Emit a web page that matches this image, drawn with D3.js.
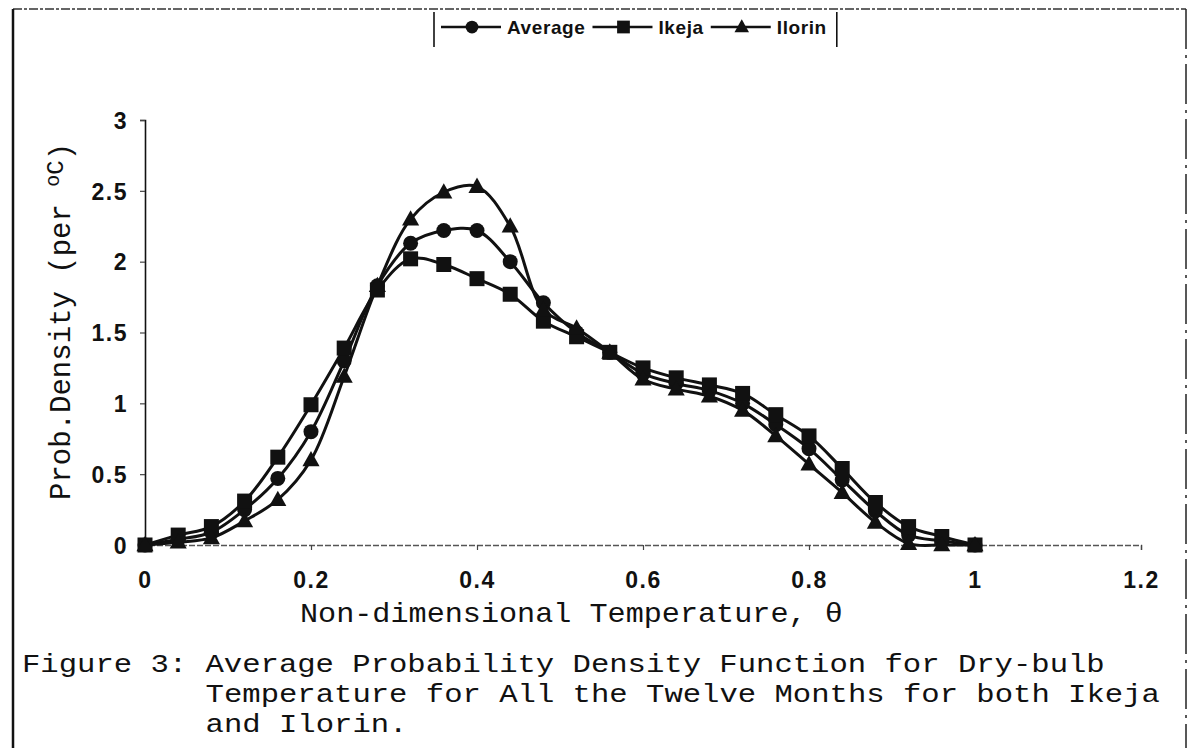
<!DOCTYPE html>
<html>
<head>
<meta charset="utf-8">
<script src="https://cdn.jsdelivr.net/npm/d3@7"></script>
<style>
  html, body { margin: 0; padding: 0; background: #fff; }
  svg { display: block; }
</style>
</head>
<body>
<svg id="chart" width="1194" height="748"></svg>
<script>
// ---- data ----
const xValues = [0, 0.04, 0.08, 0.12, 0.16, 0.20, 0.24, 0.28, 0.32, 0.36, 0.40, 0.44, 0.48,
                 0.52, 0.56, 0.60, 0.64, 0.68, 0.72, 0.76, 0.80, 0.84, 0.88, 0.92, 0.96, 1.0];
const averageValues = [0, 0.04, 0.09, 0.25, 0.47, 0.80, 1.30, 1.83, 2.13, 2.22, 2.22, 2.00, 1.71,
                       1.50, 1.36, 1.21, 1.14, 1.09, 1.00, 0.85, 0.68, 0.46, 0.24, 0.07, 0.03, 0];
const ikejaValues = [0, 0.07, 0.13, 0.31, 0.62, 0.99, 1.39, 1.80, 2.02, 1.98, 1.88, 1.77, 1.58,
                     1.47, 1.36, 1.25, 1.18, 1.13, 1.07, 0.92, 0.77, 0.54, 0.30, 0.13, 0.06, 0];
const ilorinValues = [0, 0.02, 0.05, 0.17, 0.32, 0.60, 1.19, 1.83, 2.30, 2.49, 2.53, 2.25, 1.66,
                      1.53, 1.36, 1.17, 1.10, 1.05, 0.95, 0.77, 0.57, 0.37, 0.16, 0.01, 0.0, 0];
const seriesNames = ["Average", "Ikeja", "Ilorin"];
const seriesMarkers = ["circle", "square", "triangle"];
const xTicks = [0, 0.2, 0.4, 0.6, 0.8, 1, 1.2];
const xTickLabels = ["0", "0.2", "0.4", "0.6", "0.8", "1", "1.2"];
const yTicks = [0, 0.5, 1, 1.5, 2, 2.5, 3];
const yTickLabels = ["0", "0.5", "1", "1.5", "2", "2.5", "3"];
const xTitle = "Non-dimensional Temperature, \u03B8";
const captionLines = [
  "Figure 3: Average Probability Density Function for Dry-bulb",
  "Temperature for All the Twelve Months for both Ikeja",
  "and Ilorin."
];
const captionIndent = [0, 10, 10];

const series = [
  { name: seriesNames[0], marker: seriesMarkers[0], values: averageValues },
  { name: seriesNames[1], marker: seriesMarkers[1], values: ikejaValues },
  { name: seriesNames[2], marker: seriesMarkers[2], values: ilorinValues }
];

// ---- layout ----
const svg = d3.select("#chart");
const x = d3.scaleLinear().domain([0, 1.2]).range([145, 1141]);
const y = d3.scaleLinear().domain([0, 3]).range([545, 120]);
const ink = "#111";

svg.append("rect").attr("width", 1194).attr("height", 748).attr("fill", "#fff");

// page frame (scanned border)
svg.append("line").attr("x1", 13).attr("x2", 1186).attr("y1", 9).attr("y2", 9)
  .attr("stroke", "#333").attr("stroke-width", 1.5).attr("stroke-dasharray", "9,2,3,2");
svg.append("line").attr("x1", 13).attr("x2", 13).attr("y1", 9).attr("y2", 748)
  .attr("stroke", ink).attr("stroke-width", 2.5);
svg.append("line").attr("x1", 1186).attr("x2", 1186).attr("y1", 9).attr("y2", 748)
  .attr("stroke", "#222").attr("stroke-width", 1.5).attr("stroke-dasharray", "40,6,3,6");

// axes
const monoFont = "'Liberation Mono', 'DejaVu Sans Mono', monospace";
const sansFont = "'Liberation Sans', Arial, sans-serif";

const yAxis = d3.axisLeft(y).tickValues(yTicks).tickSize(5)
  .tickFormat((d, i) => yTickLabels[i]);
const gy = svg.append("g").attr("transform", `translate(${x(0)},0)`).call(yAxis);
gy.select(".domain").attr("stroke", ink).attr("stroke-width", 1.6);
gy.selectAll(".tick line").attr("stroke", "#444").attr("stroke-width", 1.2);
gy.selectAll(".tick text")
  .attr("x", -17).attr("dy", "0.36em")
  .attr("font-family", sansFont).attr("font-weight", "bold")
  .attr("font-size", 23).attr("letter-spacing", 1.5).attr("fill", ink);

const xAxis = d3.axisBottom(x).tickValues(xTicks).tickSize(5)
  .tickFormat((d, i) => xTickLabels[i]);
const gx = svg.append("g").attr("transform", `translate(0,${y(0)})`).call(xAxis);
gx.select(".domain").attr("stroke", "#555").attr("stroke-width", 1.4)
  .attr("stroke-dasharray", "6,2");
gx.selectAll(".tick line").attr("stroke", "#444").attr("stroke-width", 1.2);
gx.selectAll(".tick text")
  .attr("y", 35).attr("dy", "0.36em")
  .attr("font-family", sansFont).attr("font-weight", "bold")
  .attr("font-size", 23).attr("letter-spacing", 1.5).attr("fill", ink);

// axis titles (typewriter text, widened horizontally)
const charW = 18.36;
const capSize = 26;
const capScale = charW / (0.6 * capSize);
svg.append("g").attr("transform", `translate(300,622) scale(${18.1 / (0.6 * 27)},1)`)
  .append("text")
  .attr("font-family", monoFont).attr("font-size", 27).attr("fill", ink)
  .text(xTitle);

const yt = svg.append("text")
  .attr("transform", "translate(70,500) rotate(-90)")
  .attr("font-family", monoFont).attr("font-size", 29).attr("fill", ink);
yt.append("tspan").text("Prob.Density (per ");
yt.append("tspan").attr("font-size", 20).attr("dy", -11).text("o");
yt.append("tspan").attr("font-size", 24).attr("dy", 4).text("C");
yt.append("tspan").attr("dy", 7).text(")");

// caption
svg.append("g").selectAll("g").data(captionLines).join("g")
  .attr("transform", (d, i) => `translate(${22 + captionIndent[i] * charW},${672 + i * 30}) scale(${capScale},1)`)
  .append("text")
  .attr("font-family", monoFont).attr("font-size", capSize).attr("fill", ink)
  .text(d => d);

// lines
const line = d3.line()
  .x((d, i) => x(xValues[i]))
  .y(d => y(d))
  .curve(d3.curveCatmullRom.alpha(0.5));

function drawMarker(g, type, cx, cy, s) {
  if (type === "circle") {
    g.append("circle").attr("cx", cx).attr("cy", cy).attr("r", 7.5 * s).attr("fill", ink);
  } else if (type === "square") {
    const h = 7.5 * s;
    g.append("rect").attr("x", cx - h).attr("y", cy - h).attr("width", 2 * h).attr("height", 2 * h)
      .attr("fill", ink);
  } else {
    const h = 9 * s;
    g.append("path")
      .attr("d", `M${cx},${cy - h} L${cx + h * 0.95},${cy + h * 0.7} L${cx - h * 0.95},${cy + h * 0.7} Z`)
      .attr("fill", ink);
  }
}

const plot = svg.append("g");
series.forEach(s => {
  plot.append("path").datum(s.values).attr("d", line)
    .attr("fill", "none").attr("stroke", ink).attr("stroke-width", 3);
});
series.forEach(s => {
  const g = plot.append("g");
  s.values.forEach((v, i) => drawMarker(g, s.marker, x(xValues[i]), y(v), 1));
});

// legend
const lg = svg.append("g");
lg.append("line").attr("x1", 434).attr("x2", 434).attr("y1", 12).attr("y2", 47)
  .attr("stroke", ink).attr("stroke-width", 1.6);
let cursor = 441;
series.forEach(s => {
  lg.append("line").attr("x1", cursor).attr("x2", cursor + 60).attr("y1", 27).attr("y2", 27)
    .attr("stroke", ink).attr("stroke-width", 2.5);
  drawMarker(lg, s.marker, cursor + 31, 27, 0.85);
  const t = lg.append("text").attr("x", cursor + 66).attr("y", 27).attr("dy", "0.36em")
    .attr("font-family", sansFont).attr("font-weight", "bold")
    .attr("font-size", 19).attr("letter-spacing", 0.6).attr("fill", ink)
    .text(s.name);
  cursor = cursor + 66 + t.node().getComputedTextLength() + 7;
});
lg.append("line").attr("x1", cursor + 3).attr("x2", cursor + 3).attr("y1", 12).attr("y2", 47)
  .attr("stroke", ink).attr("stroke-width", 1.6);
</script>
</body>
</html>
